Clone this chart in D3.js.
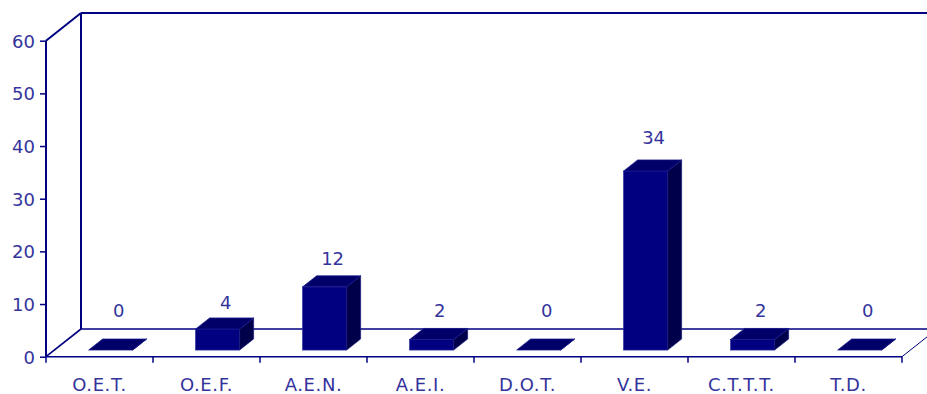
<!DOCTYPE html>
<html><head><meta charset="utf-8">
<script src="https://cdn.jsdelivr.net/npm/d3@7"></script>
<style>
html,body{margin:0;padding:0;background:#fff;}
svg{display:block;}
text{font-family:"DejaVu Sans",Verdana,sans-serif;}
</style></head>
<body>
<svg id="chart" width="927" height="394"></svg>
<script>
const categories = ["O.E.T.","O.E.F.","A.E.N.","A.E.I.","D.O.T.","V.E.","C.T.T.T.","T.D."];
const values = [0,4,12,2,0,34,2,0];
const yTicks = [0,10,20,30,40,50,60];
const yTickLabels = ["0","10","20","30","40","50","60"];

(function(){
const W = 927, H = 394;
const svg = d3.select("#chart");
const navy = "#000080", textCol = "#34349c";
const DX = 35, DY = -27.7;           // 3D depth of the floor / wall
const fFront = 0.24, fBack = 0.64;   // depth position of bars inside the floor

const x = d3.scaleBand().domain(categories).range([46, 902]);
const y = d3.scaleLinear().domain([0, 60]).range([356.7, 40.7]);

svg.append("defs").append("clipPath").attr("id","c")
  .append("rect").attr("x",0).attr("y",0).attr("width",W).attr("height",H);
const g = svg.append("g").attr("clip-path","url(#c)");

const x0 = x.range()[0], x1 = x.range()[1];
const y0 = y(0), yT = y(60);
const line = (a,b,c,d,w) => g.append("line").attr("x1",a).attr("y1",b).attr("x2",c).attr("y2",d)
  .attr("stroke",navy).attr("stroke-width",w||2);

// back wall
line(x0+DX, y0+DY, x0+DX, yT+DY);
line(x0+DX, yT+DY, x1+DX+60, yT+DY);
line(x0+DX, y0+DY, x1+DX+60, y0+DY, 1.6);
// side (left) wall
line(x0, y0, x0, yT);
line(x0, yT, x0+DX, yT+DY);
line(x0, y0, x0+DX, y0+DY, 1.6);
// floor front and right edge
line(x0, y0, x1, y0, 1.6);
line(x1, y0, x1+DX, y0+DY, 1);

// y axis
const yAxis = d3.axisLeft(y).tickValues(yTicks).tickSize(6).tickSizeOuter(0)
  .tickFormat((d,i) => yTickLabels[i]);
const ya = svg.append("g").attr("transform",`translate(${x0},0)`).call(yAxis);
ya.select(".domain").remove();
ya.selectAll(".tick line").attr("stroke",navy).attr("stroke-width",1.5);
ya.selectAll(".tick text").attr("fill",textCol).attr("font-size",18)
  .attr("font-family","DejaVu Sans").attr("x",-11).attr("dy","0.36em");

// x axis: boundary ticks + labels
const bounds = d3.range(categories.length + 1).map(i => x0 + i * x.step());
svg.append("g").selectAll("line").data(bounds).join("line")
  .attr("x1",d=>d).attr("x2",d=>d).attr("y1",y0).attr("y2",y0+6)
  .attr("stroke",navy).attr("stroke-width",1.5);
const xAxis = d3.axisBottom(x).tickSize(0).tickPadding(0);
const xa = svg.append("g").attr("transform",`translate(0,${y0})`).call(xAxis);
xa.select(".domain").remove();
xa.selectAll(".tick text").attr("fill",textCol).attr("font-size",18)
  .attr("font-family","DejaVu Sans").attr("letter-spacing","0.6px")
  .attr("y",34).attr("dy",0);

// bars
const bw = 44;
const bdx = DX*(fBack-fFront), bdy = DY*(fBack-fFront);
const data = categories.map((c,i)=>({c, v: values[i]}));
const bars = svg.append("g").selectAll("g").data(data).join("g");
const bx = d => x(d.c) + x.bandwidth()*0.32 + DX*fFront;
const base = y(0) + DY*fFront;
const barTop = d => y(d.v) + DY*fFront;
bars.append("rect").attr("x",bx).attr("y",barTop).attr("width",bw)
  .attr("height",d=>base-barTop(d))
  .attr("fill",navy).attr("stroke","#2828a0").attr("stroke-width",0.7);
bars.append("path").attr("d",d=>{
  const a = bx(d)+bw, t = barTop(d);
  return `M${a},${t}L${a+bdx},${t+bdy}L${a+bdx},${base+bdy}L${a},${base}Z`;
}).attr("fill","#00004a").attr("stroke","#1a1a80").attr("stroke-width",0.7);
bars.append("path").attr("d",d=>{
  const a = bx(d), t = barTop(d);
  return `M${a},${t}L${a+bdx},${t+bdy}L${a+bw+bdx},${t+bdy}L${a+bw},${t}Z`;
}).attr("fill","#000068").attr("stroke","#1a1a90").attr("stroke-width",0.7);

// value labels
const labelY = d => Math.min(y(d.v*1.045) - 26, y(0) - 40);
bars.append("text").attr("x",d=>bx(d)+bw/2+bdx/2+1).attr("y",labelY)
  .attr("text-anchor","middle").attr("fill",textCol).attr("font-size",18)
  .text(d=>d.v);
})();
</script>
</body></html>
